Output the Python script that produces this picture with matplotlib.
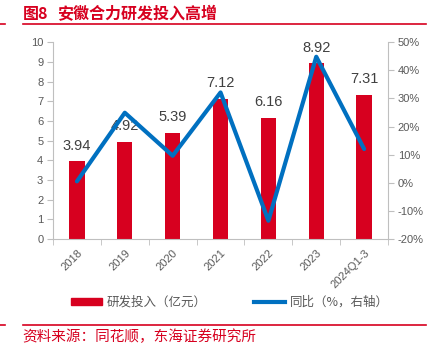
import matplotlib
matplotlib.use("Agg")
import matplotlib.pyplot as plt
from matplotlib.lines import Line2D
from matplotlib.patches import Patch

plt.rcParams['font.family'] = ['Liberation Sans', 'Noto Sans CJK SC', 'DejaVu Sans']

categories = ['2018', '2019', '2020', '2021', '2022', '2023', '2024Q1-3']
rd_spend = [3.94, 4.92, 5.39, 7.12, 6.16, 8.92, 7.31]
yoy_pct = [0.5, 24.9, 9.6, 32.1, -13.5, 44.8, 12.0]
title_num = '图8'
title = '安徽合力研发投入高增'
source = '资料来源：同花顺，东海证券研究所'
bar_label = '研发投入（亿元）'
line_label = '同比（%，右轴）'

RED = '#D7001F'
BLUE = '#0070C0'
GREY = '#595959'
SPINE = '#BFBFBF'
CJK = ['Noto Sans CJK SC', 'DejaVu Sans']

fig = plt.figure(figsize=(4.38, 3.51), dpi=100)
ax = fig.add_axes([0.121, 0.319, 0.765, 0.561])
ax2 = ax.twinx()

x = list(range(len(categories)))
ax.bar(x, rd_spend, width=0.32, color=RED, zorder=2)
for xi, v in zip(x, rd_spend):
    ax.text(xi, v + 0.45, f'{v:.2f}', ha='center', va='bottom', fontsize=10.5, color='#404040', zorder=5)

ax2.plot(x, yoy_pct, color=BLUE, lw=3, zorder=3, solid_capstyle='round')

ax.set_xlim(-0.5, len(categories) - 0.5)
ax.set_ylim(0, 10)
ax.set_yticks(range(0, 11))
ax2.set_ylim(-20, 50)
ax2.set_yticks(range(-20, 51, 10))
ax2.set_yticklabels([f'{t}%' for t in range(-20, 51, 10)])

ax.set_xticks(x)
ax.set_xticklabels(categories, rotation=45, ha='right', rotation_mode='anchor')
ax.set_xticks([i + 0.5 for i in range(-1, len(categories))], minor=True)
ax.tick_params(axis='x', which='major', length=0, labelsize=8, colors=GREY, pad=6)
ax.tick_params(axis='x', which='minor', length=4, color=SPINE, direction='out')
ax.tick_params(axis='y', length=4, color=SPINE, labelsize=8, colors=GREY, pad=3)
ax2.tick_params(axis='y', length=4, color=SPINE, labelsize=8, colors=GREY, pad=3)

for a in (ax, ax2):
    for s in a.spines.values():
        s.set_visible(False)
ax.spines['left'].set_visible(True)
ax.spines['left'].set_color(SPINE)
ax.spines['bottom'].set_visible(True)
ax.spines['bottom'].set_color(SPINE)
ax2.spines['right'].set_visible(True)
ax2.spines['right'].set_color(SPINE)

# Title and decorations
fig.text(0.053, 0.961, title_num, color=RED, fontsize=11.5, fontweight='bold', family=CJK, va='center')
fig.text(0.130, 0.961, title, color=RED, fontsize=11.5, fontweight='bold', family=CJK, va='center')
fig.add_artist(Line2D([0.053, 0.972], [0.932, 0.932], color=RED, lw=1.2, transform=fig.transFigure))
fig.add_artist(Line2D([0.0, 0.012], [0.932, 0.932], color=RED, lw=1.2, transform=fig.transFigure))
fig.add_artist(Line2D([0.053, 0.972], [0.074, 0.074], color=RED, lw=1.2, transform=fig.transFigure))
fig.add_artist(Line2D([0.0, 0.012], [0.074, 0.074], color=RED, lw=1.2, transform=fig.transFigure))
fig.text(0.051, 0.040, source, color=RED, fontsize=10.5, family=CJK, va='center')

handles = [Patch(color=RED), Line2D([0], [0], color=BLUE, lw=3)]
leg = fig.legend(handles, [bar_label, line_label], loc='center', bbox_to_anchor=(0.525, 0.138),
                 ncol=2, frameon=False, handlelength=2.5, handleheight=0.5, handletextpad=0.35,
                 columnspacing=3.8, borderpad=0, prop={'family': CJK, 'size': 9})
for t in leg.get_texts():
    t.set_color(GREY)

fig.savefig('out.png', dpi=100)
